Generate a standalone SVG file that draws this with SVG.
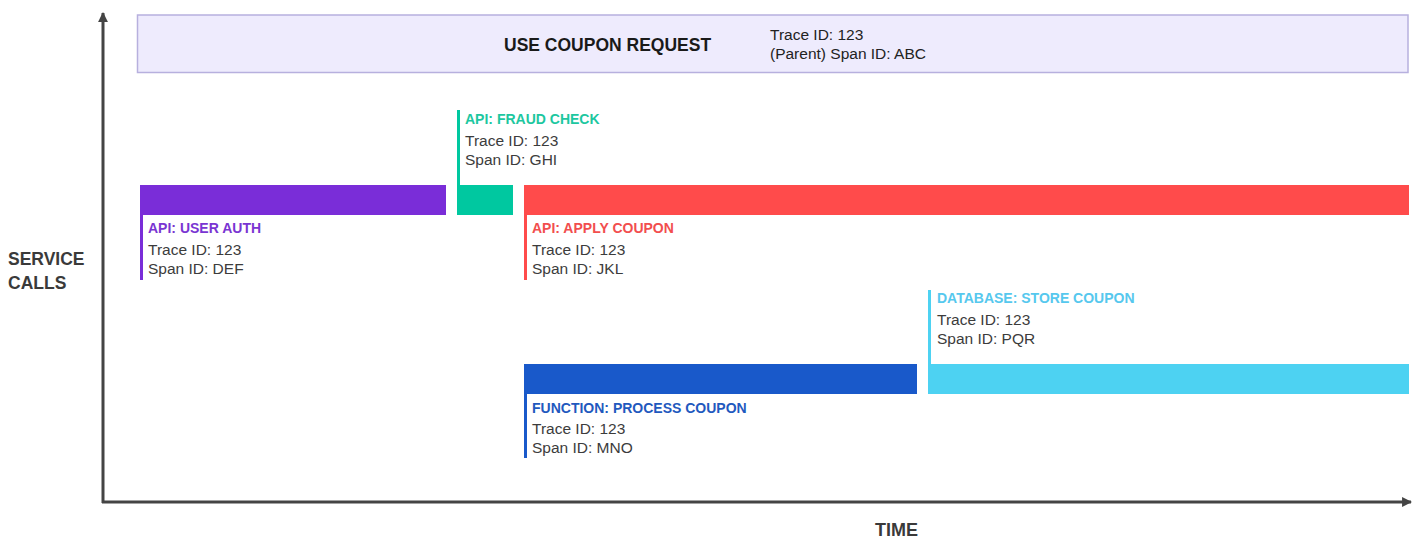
<svg xmlns="http://www.w3.org/2000/svg" width="1418" height="539" viewBox="0 0 1418 539">
<style>
text{font-family:"Liberation Sans",Arial,sans-serif}
.t{font-size:14px;font-weight:bold}
.b{font-size:15.5px;fill:#3c3c3c}
.ax{font-size:17.5px;font-weight:bold;fill:#3a3a3a}
.axis{stroke:#444;stroke-width:3;fill:none}
</style>
<defs>
<marker id="arr" viewBox="0 0 10 10" refX="9" refY="5" markerWidth="3.3" markerHeight="3.3" orient="auto" markerUnits="strokeWidth">
<path d="M0,0 L10,5 L0,10 z" fill="#444"/>
</marker>
</defs>
<rect width="1418" height="539" fill="#fff"/>
<g id="connectors">
<line class="axis" x1="103" y1="503" x2="103" y2="13" marker-end="url(#arr)"/>
<line class="axis" x1="102" y1="502" x2="1411" y2="502" marker-end="url(#arr)"/>
</g>
<g id="axis-labels">
<text class="ax" x="8" y="265">SERVICE</text>
<text class="ax" x="8" y="289">CALLS</text>
<text class="ax" x="875" y="536" style="font-size:18px">TIME</text>
</g>
<g id="request">
<rect x="137.5" y="15" width="1270.5" height="57.5" fill="#EEEBFD" stroke="#B7B0DE" stroke-width="1.5"/>
<text x="504" y="51" style="font-size:17.5px;font-weight:bold;fill:#1a1a1a">USE COUPON REQUEST</text>
<text class="b" x="770" y="40" style="fill:#222">Trace ID: 123</text>
<text class="b" x="770" y="59" style="fill:#222">(Parent) Span ID: ABC</text>
</g>
<g id="user-auth">
<rect x="140" y="185" width="306" height="30" fill="#7A2DD8"/>
<rect x="140" y="215" width="3" height="65" fill="#7A2DD8"/>
<text class="t" x="148" y="233" fill="#7A35D2">API: USER AUTH</text>
<text class="b" x="148" y="255">Trace ID: 123</text>
<text class="b" x="148" y="274">Span ID: DEF</text>
</g>
<g id="fraud-check">
<rect x="457" y="185" width="56" height="30" fill="#00C8A0"/>
<rect x="457" y="110" width="3" height="75" fill="#00C8A0"/>
<text class="t" x="465" y="124" fill="#1DC7A0">API: FRAUD CHECK</text>
<text class="b" x="465" y="146">Trace ID: 123</text>
<text class="b" x="465" y="165">Span ID: GHI</text>
</g>
<g id="apply-coupon">
<rect x="524" y="185" width="885" height="30" fill="#FF4B4B"/>
<rect x="524" y="215" width="3" height="65" fill="#FF4B4B"/>
<text class="t" x="532" y="233" fill="#F24E4E">API: APPLY COUPON</text>
<text class="b" x="532" y="255">Trace ID: 123</text>
<text class="b" x="532" y="274">Span ID: JKL</text>
</g>
<g id="process-coupon">
<rect x="524" y="364" width="393" height="30" fill="#1959CA"/>
<rect x="524" y="394" width="3" height="64" fill="#1959CA"/>
<text class="t" x="532" y="413" fill="#1F59BE">FUNCTION: PROCESS COUPON</text>
<text class="b" x="532" y="434">Trace ID: 123</text>
<text class="b" x="532" y="453">Span ID: MNO</text>
</g>
<g id="store-coupon">
<rect x="928" y="364" width="481" height="30" fill="#4DD2F2"/>
<rect x="928" y="290" width="3" height="74" fill="#4DD2F2"/>
<text class="t" x="937" y="303" fill="#56C8EE">DATABASE: STORE COUPON</text>
<text class="b" x="937" y="325">Trace ID: 123</text>
<text class="b" x="937" y="344">Span ID: PQR</text>
</g>
</svg>
